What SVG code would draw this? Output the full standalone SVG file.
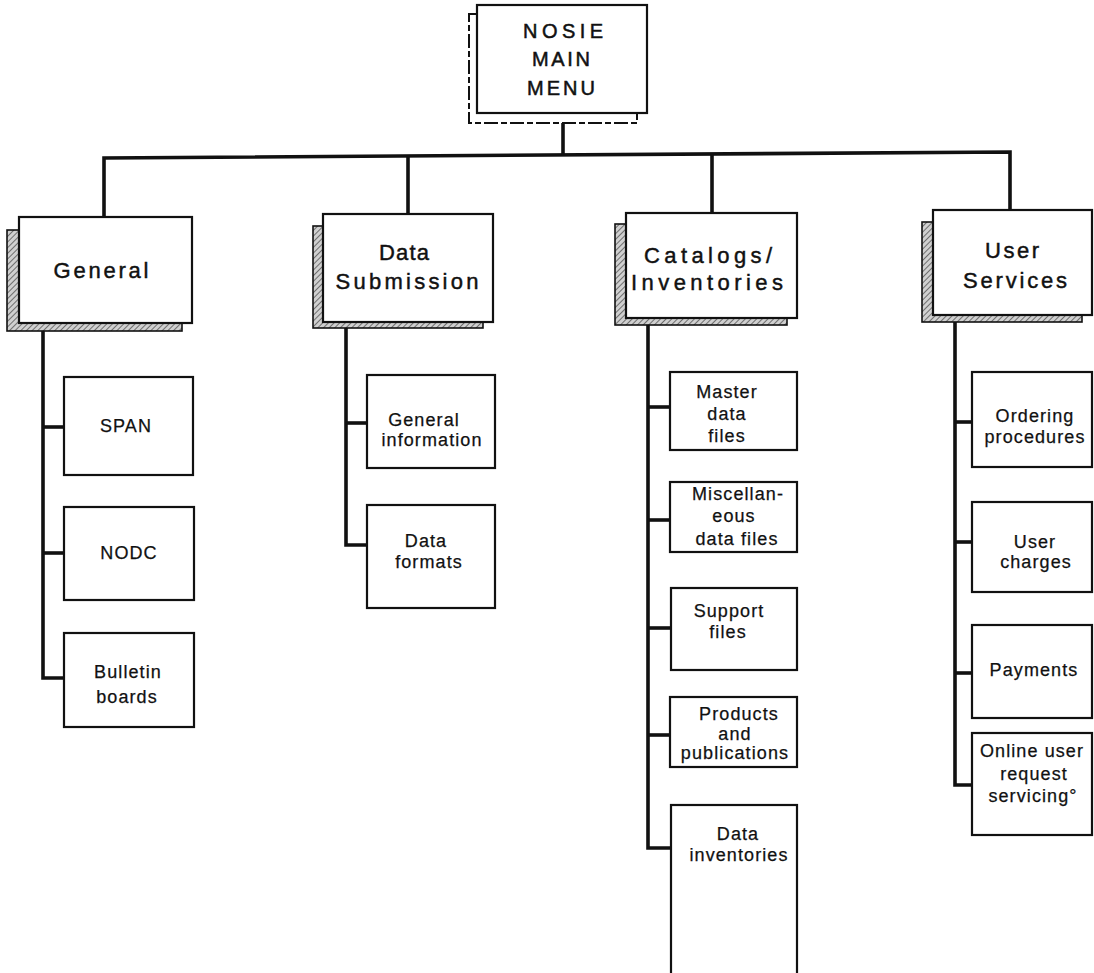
<svg xmlns="http://www.w3.org/2000/svg" width="1094" height="973" viewBox="0 0 1094 973">
<defs>
<pattern id="hatch" width="4" height="4" patternUnits="userSpaceOnUse" patternTransform="rotate(45)">
<rect width="4" height="4" fill="#d0d0d0"/>
<line x1="0" y1="0" x2="0" y2="4" stroke="#555" stroke-width="1.6"/>
</pattern>
<style>
.box{fill:#fff;stroke:#111;stroke-width:2.2}
.shadow{fill:url(#hatch);stroke:#111;stroke-width:1.6}
.mshadow{fill:#fff;stroke:#111;stroke-width:2;stroke-dasharray:14 3 6 3}
.conn{fill:none;stroke:#111;stroke-width:3.6;stroke-linejoin:miter}
.cat{font-family:"Liberation Sans",Arial,sans-serif;font-size:22px;fill:#111;stroke:#111;stroke-width:0.45;text-anchor:middle}
.main{font-family:"Liberation Sans",Arial,sans-serif;font-size:20px;fill:#111;stroke:#111;stroke-width:0.5;text-anchor:middle}
.sub{font-family:"Liberation Sans",Arial,sans-serif;font-size:18px;letter-spacing:1.1px;fill:#111;stroke:#111;stroke-width:0.25;text-anchor:middle}
</style>
</defs>
<rect width="1094" height="973" fill="#fff"/>

<g id="connectors">
<polyline class="conn" points="104,217 104,158 1010,152 1010,210"/>
<line class="conn" x1="408" y1="156" x2="408" y2="214"/>
<line class="conn" x1="712" y1="154" x2="712" y2="213"/>
<line class="conn" x1="563" y1="122" x2="563" y2="155"/>
<polyline class="conn" points="43,331 43,678 64,678"/>
<line class="conn" x1="43" y1="427" x2="64" y2="427"/>
<line class="conn" x1="43" y1="553" x2="64" y2="553"/>
<polyline class="conn" points="346,328 346,545 367,545"/>
<line class="conn" x1="346" y1="423" x2="367" y2="423"/>
<polyline class="conn" points="648,325 648,848 671,848"/>
<line class="conn" x1="648" y1="407" x2="670" y2="407"/>
<line class="conn" x1="648" y1="520" x2="670" y2="520"/>
<line class="conn" x1="648" y1="628" x2="671" y2="628"/>
<line class="conn" x1="648" y1="735" x2="670" y2="735"/>
<polyline class="conn" points="955,322 955,785 972,785"/>
<line class="conn" x1="955" y1="422" x2="972" y2="422"/>
<line class="conn" x1="955" y1="542" x2="972" y2="542"/>
<line class="conn" x1="955" y1="673" x2="972" y2="673"/>
</g>

<g id="main-menu">
<rect class="mshadow" x="469" y="14" width="168" height="109"/>
<rect class="box" x="477" y="5" width="170" height="108"/>
<text class="main" x="563" y="38" textLength="80" lengthAdjust="spacing">NOSIE</text>
<text class="main" x="561" y="66" textLength="58" lengthAdjust="spacing">MAIN</text>
<text class="main" x="561" y="95" textLength="68" lengthAdjust="spacing">MENU</text>
</g>

<g id="general">
<rect class="shadow" x="7" y="230" width="175" height="101"/>
<rect class="box" x="19" y="217" width="173" height="106"/>
<text class="cat" x="101" y="278" textLength="95" lengthAdjust="spacing">General</text>
</g>

<g id="data-submission">
<rect class="shadow" x="313" y="226" width="170" height="102"/>
<rect class="box" x="323" y="214" width="170" height="108"/>
<text class="cat" x="404" y="260" textLength="50" lengthAdjust="spacing">Data</text>
<text class="cat" x="407" y="289" textLength="143" lengthAdjust="spacing">Submission</text>
</g>

<g id="catalogs">
<rect class="shadow" x="615" y="224" width="172" height="101"/>
<rect class="box" x="626" y="213" width="171" height="105"/>
<text class="cat" x="708" y="263" textLength="128" lengthAdjust="spacing">Catalogs/</text>
<text class="cat" x="707" y="290" textLength="152" lengthAdjust="spacing">Inventories</text>
</g>

<g id="user-services">
<rect class="shadow" x="922" y="222" width="160" height="100"/>
<rect class="box" x="933" y="210" width="159" height="105"/>
<text class="cat" x="1012" y="258" textLength="54" lengthAdjust="spacing">User</text>
<text class="cat" x="1015" y="288" textLength="104" lengthAdjust="spacing">Services</text>
</g>

<g id="span">
<rect class="box" x="64" y="377" width="129" height="98"/>
<text class="sub" x="126" y="432">SPAN</text>
</g>
<g id="nodc">
<rect class="box" x="64" y="507" width="130" height="93"/>
<text class="sub" x="129" y="559">NODC</text>
</g>
<g id="bulletin-boards">
<rect class="box" x="64" y="633" width="130" height="94"/>
<text class="sub" x="128" y="678">Bulletin</text>
<text class="sub" x="127" y="703">boards</text>
</g>

<g id="general-information">
<rect class="box" x="367" y="375" width="128" height="93"/>
<text class="sub" x="424" y="426">General</text>
<text class="sub" x="432" y="446">information</text>
</g>
<g id="data-formats">
<rect class="box" x="367" y="505" width="128" height="103"/>
<text class="sub" x="426" y="547">Data</text>
<text class="sub" x="429" y="568">formats</text>
</g>

<g id="master-data-files">
<rect class="box" x="670" y="372" width="127" height="78"/>
<text class="sub" x="727" y="398">Master</text>
<text class="sub" x="727" y="420">data</text>
<text class="sub" x="727" y="442">files</text>
</g>
<g id="misc-data-files">
<rect class="box" x="670" y="482" width="127" height="70"/>
<text class="sub" x="738" y="500">Miscellan-</text>
<text class="sub" x="734" y="522">eous</text>
<text class="sub" x="737" y="545">data files</text>
</g>
<g id="support-files">
<rect class="box" x="671" y="588" width="126" height="82"/>
<text class="sub" x="729" y="617">Support</text>
<text class="sub" x="728" y="638">files</text>
</g>
<g id="products-publications">
<rect class="box" x="670" y="697" width="127" height="70"/>
<text class="sub" x="739" y="720">Products</text>
<text class="sub" x="735" y="740">and</text>
<text class="sub" x="735" y="759">publications</text>
</g>
<g id="data-inventories">
<rect class="box" x="671" y="805" width="126" height="180"/>
<text class="sub" x="738" y="840">Data</text>
<text class="sub" x="739" y="861">inventories</text>
</g>

<g id="ordering-procedures">
<rect class="box" x="972" y="372" width="120" height="95"/>
<text class="sub" x="1035" y="422">Ordering</text>
<text class="sub" x="1035" y="443">procedures</text>
</g>
<g id="user-charges">
<rect class="box" x="972" y="502" width="120" height="90"/>
<text class="sub" x="1035" y="548">User</text>
<text class="sub" x="1036" y="568">charges</text>
</g>
<g id="payments">
<rect class="box" x="972" y="625" width="120" height="93"/>
<text class="sub" x="1034" y="676">Payments</text>
</g>
<g id="online-user-request">
<rect class="box" x="972" y="733" width="120" height="102"/>
<text class="sub" x="1032" y="757">Online user</text>
<text class="sub" x="1034" y="780">request</text>
<text class="sub" x="1033" y="802">servicing°</text>
</g>
</svg>
